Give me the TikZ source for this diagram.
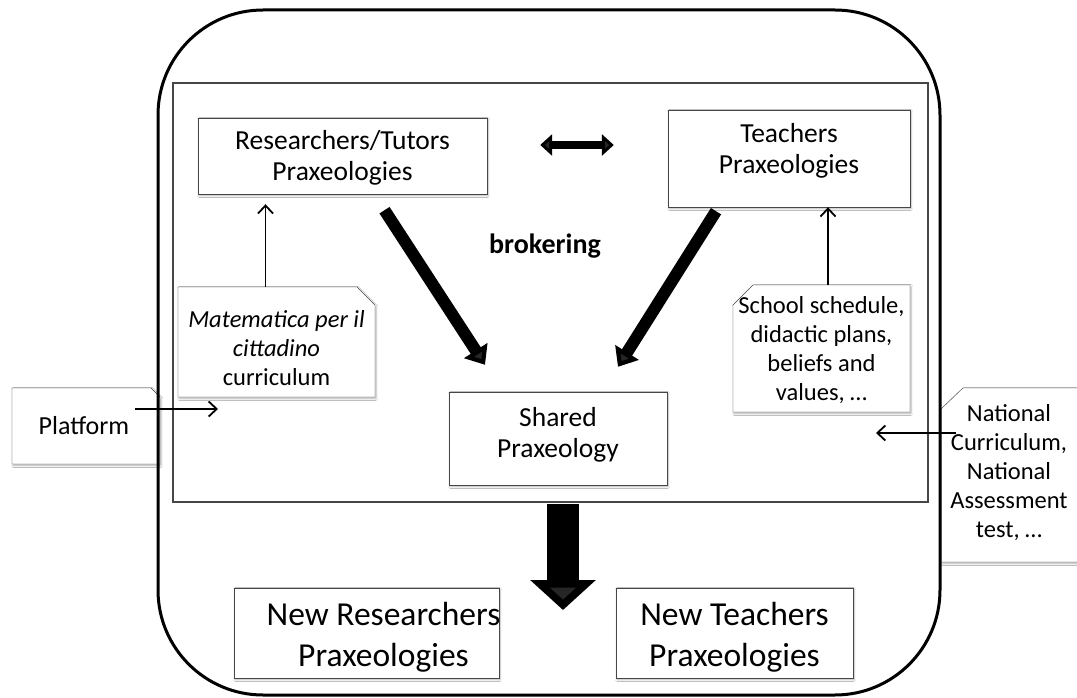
\documentclass[tikz,border=0pt]{standalone}
\usepackage{fontspec}
\setmainfont{Carlito}
\usetikzlibrary{arrows.meta, calc, positioning, shadows.blur}

\tikzset{
    pbox/.style = {draw = gray!55!black, fill = white, inner sep = 0pt,
        blur shadow = {shadow xshift = 1pt, shadow yshift = -1.5pt, shadow blur steps = 6, shadow opacity = 30}},
    ptext/.style = {align = center, inner sep = 0pt, font = \fontsize{27.5}{31}\selectfont},
    newtext/.style = {align = center, inner sep = 0pt, font = \fontsize{33.5}{41}\selectfont},
    note/.style = {align = center, inner sep = 0pt, font = \fontsize{24.5}{29}\selectfont},
    noteline/.style = {draw = gray!55!black, fill = white,
        blur shadow = {shadow xshift = 1pt, shadow yshift = -1.5pt, shadow blur steps = 6, shadow opacity = 30}},
    thinarrow/.style = {line width = 1.8pt, -{Straight Barb[length=8pt, width=15pt]}},
    bigarrow/.style = {line width = 12pt, -{Triangle[width=27pt, length=17pt]}},
    dblarrow/.style = {line width = 8pt, {Triangle[width=21pt, length=12pt]}-{Triangle[width=21pt, length=12pt]}}
}

\begin{document}
\begin{tikzpicture}[x = 1pt, y = -1pt]
    % cornice
    \clip (0,0) rectangle (1077,698);
    \fill[white] (0,0) rectangle (1077,698);
    % riquadro interno
    \draw[gray!55!black, line width = 1.2pt] (173,83) rectangle (928,502);
    % prassologie
    \node[pbox, minimum width = 289pt, minimum height = 76pt] (res) at (342.5,156) {};
    \node[ptext] (restxt) at ([yshift=-2pt]res.center) {Researchers/Tutors\\Praxeologies};
    \node[pbox, minimum width = 242pt, minimum height = 97pt] (teach) at (789,158.5) {};
    \node[ptext] (teachtxt) at ([yshift=8pt]teach.center) {Teachers\\Praxeologies};
    \node[pbox, minimum width = 218pt, minimum height = 93pt] (shared) at (558,438.5) {};
    \node[ptext] (sharedtxt) at ([yshift=4pt]shared.center) {Shared\\Praxeology};
    \node[font = \bfseries\fontsize{28}{31}\selectfont] (brok) at (545,246) {brokering};
    % note con angolo tagliato
    \path[noteline] (178,287) -- (357,287) -- (375,305) -- (375,397) -- (178,397) -- cycle;
    \node[note] (mat) at (276.5,348) {\textit{Matematica per il}\\\textit{cittadino}\\curriculum};
    \path[noteline] (753,285) -- (910,285) -- (910,412) -- (733,412) -- (733,305) -- cycle;
    \node[note] (sch) at (821.5,350) {School schedule,\\didactic plans,\\beliefs and\\values, \dots};
    \path[noteline] (12,388) -- (151,388) -- (160,397) -- (160,464) -- (12,464) -- cycle;
    \node[note, font = \fontsize{26}{31}\selectfont] (plat) at (84,426) {Platform};
    \path[noteline] (963,388) -- (1090,388) -- (1090,562) -- (941,562) -- (941,409) -- cycle;
    \node[note] (nat) at (1009,473) {National\\Curriculum,\\National\\Assessment\\test, \dots};
    % contorno esterno
    \draw[line width = 3pt, rounded corners = 105pt] (158,10) rectangle (940,695);
    % frecce sottili
    \coordinate (matup) at ([xshift=-11pt]276.5,287);
    \draw[thinarrow, shorten >= 10pt] (matup) -- (matup |- res.south);
    \coordinate (schup) at ([xshift=6.5pt]821.5,285);
    \draw[thinarrow] (schup) -- (schup |- teach.south);
    \coordinate (platend) at (218,409);
    \draw[thinarrow] ([xshift=6pt,yshift=17pt]plat.east) -- (platend);
    \coordinate (natend) at (876,433);
    \draw[thinarrow] ([xshift=6pt,yshift=40pt]nat.west) -- (natend);
    % frecce grandi
    \draw[dblarrow] ([xshift=53pt,yshift=11pt]res.east) -- ([xshift=-54pt,yshift=13.5pt]teach.west);
    \draw[bigarrow] ([xshift=42pt,yshift=-16pt]res.south) -- ([xshift=-73pt,yshift=27pt]shared.north);
    \draw[bigarrow] ([xshift=-73pt,yshift=-4pt]teach.south) -- ([xshift=60pt,yshift=25pt]shared.north);
    \coordinate (dtop) at (563,504);
    \coordinate (dtip) at (563,610);
    \draw[line width = 32pt, -{Triangle[width=64pt, length=30pt]}] (dtop) -- (dtip);
    % nuove prassologie
    \node[pbox, minimum width = 265pt, minimum height = 90pt] (newres) at (366.5,633) {};
    \node[newtext] (newrestxt) at ([xshift=17pt,yshift=-4pt]newres.center) {New Researchers\\Praxeologies};
    \node[pbox, minimum width = 237pt, minimum height = 90pt] (newteach) at (734.5,633) {};
    \node[newtext] (newteachtxt) at ([yshift=-4pt]newteach.center) {New Teachers\\Praxeologies};
\end{tikzpicture}
\end{document}
